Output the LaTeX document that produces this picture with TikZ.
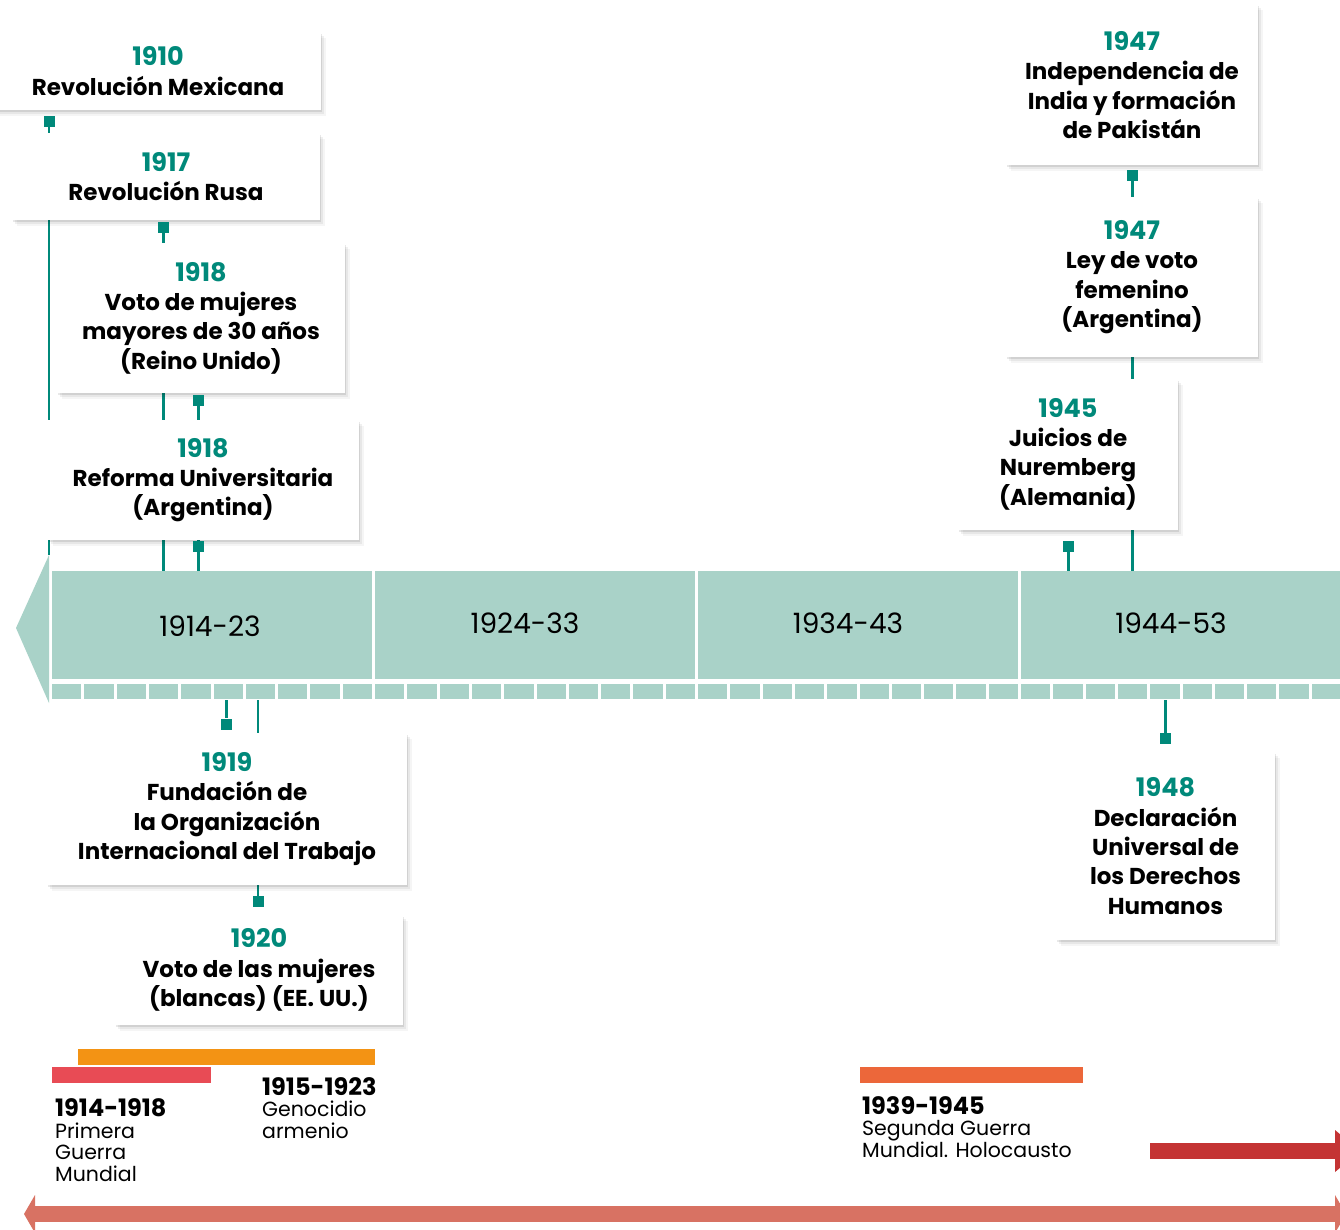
\documentclass[tikz,border=0pt]{standalone}
\usepackage{fontspec}
\setmainfont{Poppins}
\usetikzlibrary{positioning, shadows, calc, backgrounds}
\definecolor{ygrn}  {RGB}{  0,137,122}
\definecolor{bandc} {RGB}{169,210,200}
\definecolor{orng}  {RGB}{243,147, 20}
\definecolor{rbar}  {RGB}{232, 75, 85}
\definecolor{oredb} {RGB}{236,103, 58}
\definecolor{dred}  {RGB}{196, 52, 52}
\definecolor{salm}  {RGB}{216,114, 99}
\tikzset{
  % White event card, soft shadow to the lower right
  EV/.style={rectangle,fill=white,align=center,inner sep=0pt,
             font=\fontsize{23}{29.3}\selectfont\bfseries,
             drop shadow={shadow xshift=1pt,shadow yshift=-2pt,
                          fill=black,opacity=.09},
             drop shadow={shadow xshift=3pt,shadow yshift=-4pt,
                          fill=black,opacity=.06},
             drop shadow={shadow xshift=5pt,shadow yshift=-6pt,
                          fill=black,opacity=.04}},
  % Teal square marker
  SQ/.style={rectangle,fill=ygrn,minimum size=11pt,inner sep=0pt},
  % Teal stub line
  Lnk/.style={draw=ygrn,line width=2.5pt},
  % Decade cell of the band
  DEC/.style={rectangle,fill=bandc,minimum width=320pt,
              minimum height=108pt,inner sep=0pt},
  DL/.style={anchor=base,inner sep=0pt,font=\fontsize{28}{30}\selectfont},
  % Period caption under a bar (anchored on its last line)
  PER/.style={anchor=base west,align=left,inner sep=0pt,
              font=\fontsize{20.5}{21.5}\selectfont},
}
\newcommand{\yr}[1]{\textcolor{ygrn}{\fontsize{25.5}{29.3}\selectfont #1}}
\newcommand{\pyr}[1]{{\bfseries\fontsize{24}{21.5}\selectfont #1}}

\begin{document}
\begin{tikzpicture}[x=1pt,y=-1pt]
  \useasboundingbox (0,0) rectangle (1340,1230);
  \clip (0,0) rectangle (1340,1230);

  % Band — four decades, arrow tip on the left
  \fill[bandc] (49,555) -- (16,628) -- (49,703) -- cycle;
  \coordinate (tiptop) at (49,555);
  \node[DEC] (d1) at (212,625) {};
  \node[DEC] (d2) at (535,625) {};
  \node[DEC] (d3) at (858,625) {};
  \node[DEC,minimum width=340pt] (d4) at (1191,625) {};
  \foreach \d in {0,...,3}
    \foreach \c in {0,...,9}
      \fill[bandc] ({52+323*\d+32.3*\c},684) rectangle ++(29.3,15);
  \coordinate (tkb) at (0,700);
  \node[DL] (l1) at (210,636) {1914-23};
  \node[DL] (l2) at (525,633) {1924-33};
  \node[DL] (l3) at (848,633) {1934-43};
  \node[DL] (l4) at (1171,633) {1944-53};

  % Event cards above the band
  \node[EV,minimum width=326pt,minimum height=78pt] (e1910) at (158,71)
       {\yr{1910}\\Revolución Mexicana};
  \node[EV,minimum width=308pt,minimum height=87pt] (e1917) at (166,176.5)
       {\yr{1917}\\Revolución Rusa};
  \node[EV,minimum width=288pt,minimum height=150pt] (e1918a) at (201,318)
       {\yr{1918}\\Voto de mujeres\\mayores de 30 años\\(Reino Unido)};
  \node[EV,minimum width=311pt,minimum height=120pt] (e1918b) at (203,480)
       {\yr{1918}\\Reforma Universitaria\\(Argentina)};
  \node[EV,minimum width=252pt,minimum height=161pt] (e1947a) at (1132,85)
       {\yr{1947}\\Independencia de\\India y formación\\de Pakistán};
  \node[EV,minimum width=252pt,minimum height=160pt] (e1947b) at (1132,277)
       {\yr{1947}\\Ley de voto\\femenino\\(Argentina)};
  \node[EV,minimum width=220pt,minimum height=151pt] (e1945) at (1068,454)
       {\yr{1945}\\Juicios de\\Nuremberg\\(Alemania)};
  % Event cards below the band
  \node[EV,minimum width=360pt,minimum height=152pt] (e1919) at (227,809)
       {\yr{1919}\\Fundación de\\la Organización\\Internacional del Trabajo};
  \node[EV,minimum width=288pt,minimum height=110pt] (e1920) at (259,970)
       {\yr{1920}\\Voto de las mujeres\\(blancas) (EE. UU.)};
  \node[EV,minimum width=219pt,minimum height=188pt] (e1948) at (1165.5,846)
       {\yr{1948}\\Declaración\\Universal de\\los Derechos\\Humanos};

  % Markers
  \node[SQ] (m1910)  at (49,121.5)   {};
  \node[SQ] (m1917)  at (163.5,227.5) {};
  \node[SQ] (m1918a) at (198.5,400.5) {};
  \node[SQ] (m1918b) at (198.5,546.5) {};
  \node[SQ] (m1947a) at (1132.5,175.5) {};
  \node[SQ] (m1945)  at (1068.5,546.5) {};
  \node[SQ] (m1919)  at (226.5,724)   {};
  \node[SQ] (m1920)  at (258,901.5)   {};
  \node[SQ] (m1948)  at (1165.5,738.5) {};

  % Stubs — behind the cards
  \begin{scope}[on background layer]
    \draw[Lnk] (m1910) -- (m1910 |- tiptop);
    \foreach \m in {m1917,m1918a,m1918b}
      \draw[Lnk] (\m) -- (\m |- d1.north);
    \foreach \m in {m1947a,m1945}
      \draw[Lnk] (\m) -- (\m |- d4.north);
    \foreach \m in {m1919,m1920,m1948}
      \draw[Lnk] (\m |- tkb) -- (\m);
  \end{scope}

  % Period bars
  \fill[orng]  (78,1049) rectangle (375,1065);
  \fill[rbar]  (52,1067) rectangle (211,1083);
  \fill[oredb] (860,1067) rectangle (1083,1083);
  \node[PER] (p1914) at (55,1181)
       {\pyr{1914-1918}\\Primera\\Guerra\\Mundial};
  \node[PER] (p1915) at (262,1138)
       {\pyr{1915-1923}\\Genocidio\\armenio};
  \node[PER] (p1939) at (862,1157)
       {\pyr{1939-1945}\\Segunda Guerra\\Mundial. Holocausto};

  % Arrows running off the page
  \fill[dred] (1150,1143) rectangle (1336,1159);
  \fill[dred] (1335,1130) -- (1360,1151) -- (1335,1172) -- cycle;
  \fill[salm] (34,1206) rectangle (1336,1222);
  \fill[salm] (35,1195) -- (24,1214) -- (35,1233) -- cycle;
  \fill[salm] (1335,1195) -- (1346,1214) -- (1335,1233) -- cycle;
\end{tikzpicture}
\end{document}
